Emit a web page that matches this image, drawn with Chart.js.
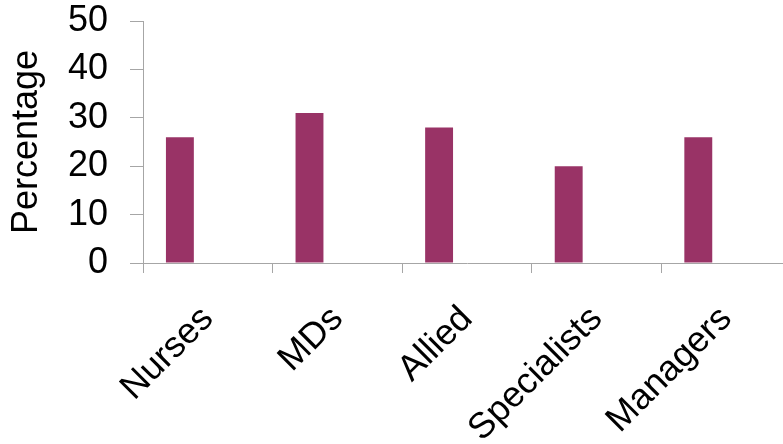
<!DOCTYPE html>
<html>
<head>
<meta charset="utf-8">
<script src="https://cdn.jsdelivr.net/npm/chart.js@4/dist/chart.umd.min.js"></script>
<style>
  html, body { margin: 0; padding: 0; background: #fff; overflow: hidden; }
  #wrap { width: 791px; height: 444px; position: relative; }
</style>
</head>
<body>
<div id="wrap"><canvas id="myChart"></canvas></div>
<script>
const categories = ['Nurses', 'MDs', 'Allied', 'Specialists', 'Managers'];
const percentages = [26, 31, 28, 20, 26];
const yTicks = [0, 10, 20, 30, 40, 50];

// the original is a clustered chart with one visible series; empty series keep the bar on the left of each slot
const emptySeries = categories.map(() => null);

const axisGray = '#a6a6a6';
const font = { family: '"Liberation Sans", Arial, sans-serif', size: 36 };

const ctx = document.getElementById('myChart').getContext('2d');
const myChart = new Chart(ctx, {
    type: 'bar',
    data: {
        labels: categories,
        datasets: [
            { label: 'Percentage', data: percentages, backgroundColor: '#993366', categoryPercentage: 0.646, barPercentage: 1 },
            { label: 'b', data: emptySeries, categoryPercentage: 0.646, barPercentage: 1 },
            { label: 'c', data: emptySeries, categoryPercentage: 0.646, barPercentage: 1 }
        ]
    },
    options: {
        responsive: true,
        maintainAspectRatio: false,
        animation: false,
        layout: { padding: 0 },
        plugins: { legend: { display: false }, tooltip: { enabled: false } },
        scales: {
            x: {
                offset: true,
                grid: { display: true, drawOnChartArea: false, offset: true, tickLength: 10, color: axisGray, tickColor: axisGray },
                border: { display: true, color: axisGray, width: 1 },
                ticks: { color: '#000', font: font, minRotation: 45, maxRotation: 45, padding: 25, autoSkip: false },
                afterFit: s => { s.height = 181; s.paddingLeft = 0; s.paddingRight = 0; }
            },
            y: {
                min: 0,
                max: 50,
                afterBuildTicks: s => { s.ticks = yTicks.map(v => ({ value: v })); },
                grid: { display: true, drawOnChartArea: false, tickLength: 13, color: axisGray, tickColor: axisGray },
                border: { display: true, color: axisGray, width: 1 },
                ticks: { color: '#000', font: font, padding: 22, autoSkip: false },
                title: { display: true, text: 'Percentage', color: '#000', font: font, padding: { top: 5, bottom: 0 } },
                afterFit: s => { s.width = 143; s.paddingTop = 21; s.paddingBottom = 0; }
            }
        }
    }
});
</script>
</body>
</html>
